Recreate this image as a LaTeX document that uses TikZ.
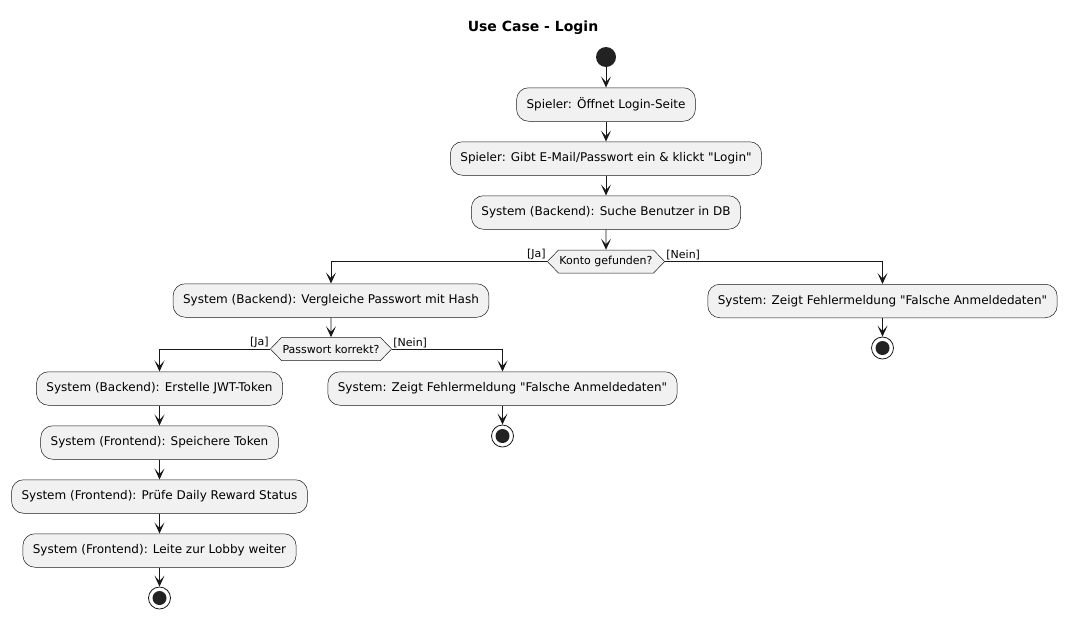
\documentclass[tikz,border=0pt]{standalone}
\usepackage{fontspec}
\setmainfont{DejaVu Sans}[Ligatures=TeXOff]
\usetikzlibrary{arrows.meta,shapes.symbols}

\definecolor{umlfill}{HTML}{F1F1F1}
\definecolor{umlline}{HTML}{181818}
\definecolor{umldot}{HTML}{222222}

\tikzset{
  action/.style={draw=umlline,line width=0.5pt,fill=umlfill,rounded corners=12pt,
    minimum height=33.5pt,inner xsep=10pt,font=\fontsize{12}{14}\selectfont},
  choice/.style={draw=umlline,line width=0.5pt,fill=umlfill,shape=signal,
    signal to=west and east,signal pointer angle=92,minimum height=23pt,
    inner xsep=1pt,inner ysep=0pt,font=\fontsize{11}{13}\selectfont},
  guard/.style={font=\fontsize{11}{13}\selectfont,inner sep=1pt},
  startdot/.style={circle,fill=umldot,minimum size=20pt,inner sep=0pt},
  stopdot/.style={circle,draw=umlline,line width=0.8pt,fill=white,minimum size=22pt,inner sep=0pt,
    path picture={\fill[umldot] (path picture bounding box.center) circle (7pt);}},
  flow/.style={draw=umlline,line width=0.9pt,-{Stealth[length=11pt,width=10pt,inset=5.5pt]}}
}

\begin{document}
\begin{tikzpicture}[x=1pt,y=-1pt]
  \useasboundingbox (0,0) rectangle (1067,619);

  \node[font=\fontsize{14}{16}\selectfont\bfseries] (Title) at (533,28) {Use Case - Login};

  % MAIN LINE
  \node[startdot] (Start) at (606,57) {};
  \node[action] (OpenPage) at (606,104.5) {Spieler: Öffnet Login-Seite};
  \node[action] (EnterData) at (606,158.5) {Spieler: Gibt E-Mail/Passwort ein \& klickt "Login"};
  \node[action] (FindUser) at (606,212.5) {System (Backend): Suche Benutzer in DB};
  \node[choice] (Account) at (606,261.5) {Konto gefunden?};

  % ACCOUNT FOUND
  \node[action] (CompareHash) at (331,300.5) {System (Backend): Vergleiche Passwort mit Hash};
  \node[choice] (PwdOk) at (331,349) {Passwort korrekt?};
  % Ja
  \node[action] (MakeToken) at (159.5,388.5) {System (Backend): Erstelle JWT-Token};
  \node[action] (SaveToken) at (159.5,442.5) {System (Frontend): Speichere Token};
  \node[action] (Reward) at (159.5,496.5) {System (Frontend): Prüfe Daily Reward Status};
  \node[action] (Lobby) at (159.5,550.5) {System (Frontend): Leite zur Lobby weiter};
  \node[stopdot] (StopA) at (159.5,598) {};
  % Nein
  \node[action] (ErrPwd) at (502.5,388.5) {System: Zeigt Fehlermeldung "Falsche Anmeldedaten"};
  \node[stopdot] (StopB) at (502.5,436) {};

  % NO ACCOUNT
  \node[action] (ErrUser) at (882.5,301) {System: Zeigt Fehlermeldung "Falsche Anmeldedaten"};
  \node[stopdot] (StopC) at (882.5,348) {};

  \draw[flow] (Start) -- (OpenPage);
  \draw[flow] (OpenPage) -- (EnterData);
  \draw[flow] (EnterData) -- (FindUser);
  \draw[flow] (FindUser) -- (Account);
  \draw[flow] (Account.west) -| node[guard,pos=0,anchor=south east] {[Ja]} (CompareHash.north);
  \draw[flow] (Account.east) -| node[guard,pos=0,anchor=south west] {[Nein]} (ErrUser.north);
  \draw[flow] (CompareHash) -- (PwdOk);
  \draw[flow] (PwdOk.west) -| node[guard,pos=0,anchor=south east] {[Ja]} (MakeToken.north);
  \draw[flow] (PwdOk.east) -| node[guard,pos=0,anchor=south west] {[Nein]} (ErrPwd.north);
  \draw[flow] (MakeToken) -- (SaveToken);
  \draw[flow] (SaveToken) -- (Reward);
  \draw[flow] (Reward) -- (Lobby);
  \draw[flow] (Lobby) -- (StopA);
  \draw[flow] (ErrPwd) -- (StopB);
  \draw[flow] (ErrUser) -- (StopC);
\end{tikzpicture}
\end{document}
